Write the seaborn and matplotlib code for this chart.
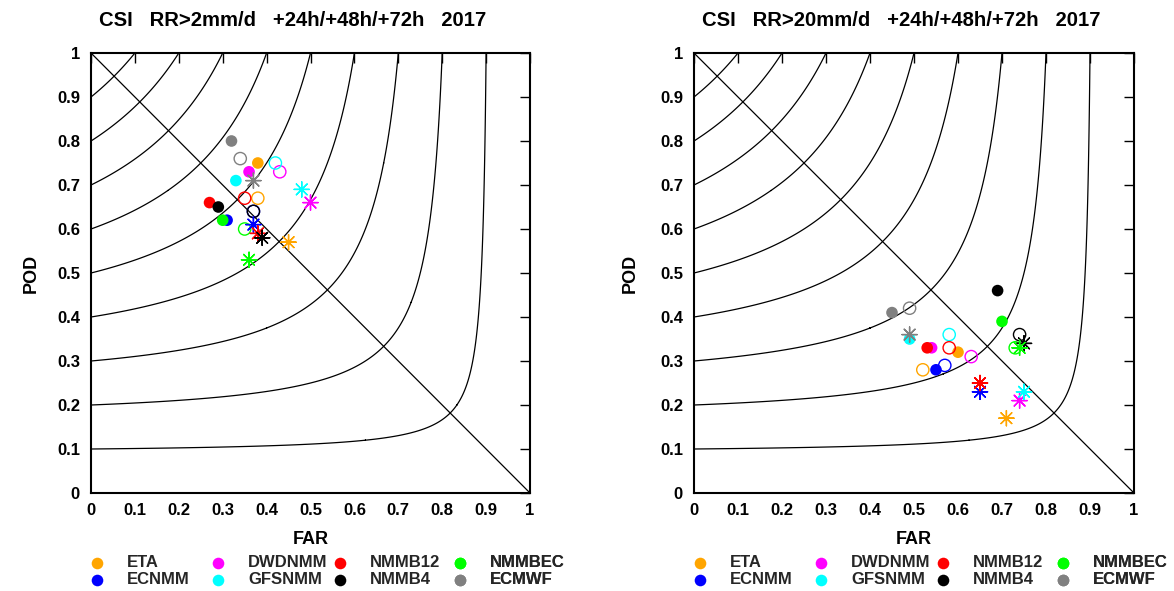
import numpy as np
import pandas as pd
import matplotlib
matplotlib.use("Agg")
import matplotlib.pyplot as plt
import seaborn as sns

# ---------------- data ----------------
models = ["ETA", "ECNMM", "DWDNMM", "GFSNMM", "NMMB12", "NMMB4", "NMMBEC", "ECMWF"]
colors = ["#FFA500", "#0000FF", "#FF00FF", "#00FFFF", "#FF0000", "#000000", "#00FF00", "#808080"]
legend_rows = [["ETA", "ECNMM"], ["DWDNMM", "GFSNMM"], ["NMMB12", "NMMB4"], ["NMMBEC", "ECMWF"]]

titles = ["CSI   RR>2mm/d   +24h/+48h/+72h   2017",
          "CSI   RR>20mm/d   +24h/+48h/+72h   2017"]

# Panel 1: RR>2mm/d
far_24_p1 = [0.38, 0.31, 0.36, 0.33, 0.27, 0.29, 0.30, 0.32]
pod_24_p1 = [0.75, 0.62, 0.73, 0.71, 0.66, 0.65, 0.62, 0.80]
far_48_p1 = [0.38, 0.37, 0.43, 0.42, 0.35, 0.37, 0.35, 0.34]
pod_48_p1 = [0.67, 0.64, 0.73, 0.75, 0.67, 0.64, 0.60, 0.76]
far_72_p1 = [0.45, 0.37, 0.50, 0.48, 0.38, 0.39, 0.36, 0.37]
pod_72_p1 = [0.57, 0.61, 0.66, 0.69, 0.59, 0.58, 0.53, 0.71]

# Panel 2: RR>20mm/d
far_24_p2 = [0.60, 0.55, 0.54, 0.49, 0.53, 0.69, 0.70, 0.45]
pod_24_p2 = [0.32, 0.28, 0.33, 0.35, 0.33, 0.46, 0.39, 0.41]
far_48_p2 = [0.52, 0.57, 0.63, 0.58, 0.58, 0.74, 0.73, 0.49]
pod_48_p2 = [0.28, 0.29, 0.31, 0.36, 0.33, 0.36, 0.33, 0.42]
far_72_p2 = [0.71, 0.65, 0.74, 0.75, 0.65, 0.75, 0.74, 0.49]
pod_72_p2 = [0.17, 0.23, 0.21, 0.23, 0.25, 0.34, 0.33, 0.36]

csi_levels = [0.1, 0.2, 0.3, 0.4, 0.5, 0.6, 0.7, 0.8, 0.9]
bias_far = [0.0, 1.0]
bias_pod = [1.0, 0.0]
ticks = [0, 0.1, 0.2, 0.3, 0.4, 0.5, 0.6, 0.7, 0.8, 0.9, 1]
tick_labels = ["0", "0.1", "0.2", "0.3", "0.4", "0.5", "0.6", "0.7", "0.8", "0.9", "1"]

panels = [
    (far_24_p1, pod_24_p1, far_48_p1, pod_48_p1, far_72_p1, pod_72_p1),
    (far_24_p2, pod_24_p2, far_48_p2, pod_48_p2, far_72_p2, pod_72_p2),
]

# ---------------- style ----------------
sns.set_theme(style="white")
plt.rcParams["font.family"] = ["Liberation Sans", "DejaVu Sans"]
plt.rcParams["font.weight"] = "bold"

fig = plt.figure(figsize=(11.74, 5.91), dpi=100)
W, H = 1174, 591
axes_px = [(91, 439), (694, 440)]
ylabel_px = [31, 630]
ax_bottom, ax_top = 493, 53

palette = dict(zip(models, colors))

# CSI background grid
g = np.linspace(0, 1, 1201)
FF, PP = np.meshgrid(g, g)
with np.errstate(divide="ignore", invalid="ignore"):
    CSI = 1.0 / (1.0 / (1.0 - FF) + 1.0 / PP - 1.0)
CSI = np.nan_to_num(CSI, nan=0.0, posinf=0.0, neginf=0.0)
CSI = np.clip(CSI, 0, 1)

star = (8, 2, 0)
title_x = [0.459, 0.47]

for i, (left_px, width_px) in enumerate(axes_px):
    ax = fig.add_axes([left_px / W, (H - ax_bottom) / H, width_px / W, (ax_bottom - ax_top) / H])
    f24, p24, f48, p48, f72, p72 = panels[i]

    ax.contour(FF, PP, CSI, levels=csi_levels, colors="black", linewidths=0.9)
    sns.lineplot(x=bias_far, y=bias_pod, ax=ax, color="black", linewidth=0.9, legend=False)

    df24 = pd.DataFrame({"model": models, "far": f24, "pod": p24})
    sns.scatterplot(data=df24, x="far", y="pod", hue="model", palette=palette, ax=ax,
                    s=70, marker="o", linewidth=0, legend=False, zorder=5)
    ax.scatter(f48, p48, s=78, facecolors="none", edgecolors=colors, linewidths=1.0, zorder=5)
    ax.scatter(f72, p72, s=120, marker=star, c=colors, linewidths=1.0, zorder=5)

    ax.set_xlim(0, 1)
    ax.set_ylim(0, 1)
    ax.set_xticks(ticks)
    ax.set_yticks(ticks)
    ax.set_xticklabels(tick_labels)
    ax.set_yticklabels(tick_labels)
    ax.tick_params(direction="in", length=7, width=1, top=True, right=True,
                   labelsize=12, colors="black")
    ax.tick_params(axis="x", pad=7.5)
    ax.tick_params(axis="y", pad=8)
    for lab in ax.get_xticklabels() + ax.get_yticklabels():
        lab.set_fontweight("bold")
    for sp in ax.spines.values():
        sp.set_color("black")
        sp.set_linewidth(1.5)

    ax.set_xlabel("FAR", fontsize=13, fontweight="bold", color="black")
    ax.set_ylabel("POD", fontsize=13, fontweight="bold", color="black")
    ax.xaxis.label.set_va("center")
    ax.yaxis.label.set_va("center")
    ax.xaxis.set_label_coords(0.5, (ax_bottom - 540) / (ax_bottom - ax_top))
    ax.yaxis.set_label_coords((ylabel_px[i] - left_px) / width_px, 0.5)

    ax.text(title_x[i], (ax_bottom - 20) / (ax_bottom - ax_top), titles[i],
            transform=ax.transAxes, ha="center", va="center",
            fontsize=14.6, fontweight="bold", color="black")

    # legend: four columns, two rows
    fs = 12
    fs_px = fs * 100 / 72
    marker_off = [5.5, 127, 248.5, 369]
    for col, names in enumerate(legend_rows):
        handles = []
        for nm in names:
            h = ax.scatter([], [], s=70, c=palette[nm], marker="o", linewidths=0, label=nm)
            handles.append(h)
        x_anchor = (marker_off[col] - 0.5 * fs_px) / width_px
        leg = ax.legend(handles=handles, labels=names, loc="upper left",
                        bbox_to_anchor=(x_anchor, (ax_bottom - 555) / (ax_bottom - ax_top)),
                        frameon=False, borderpad=0, borderaxespad=0, handlelength=1.0,
                        handletextpad=(30 - 0.5 * fs_px) / fs_px, labelspacing=0.15,
                        prop={"size": fs, "weight": "bold"}, scatterpoints=1)
        ax.add_artist(leg)

fig.savefig("out.png", dpi=100)
